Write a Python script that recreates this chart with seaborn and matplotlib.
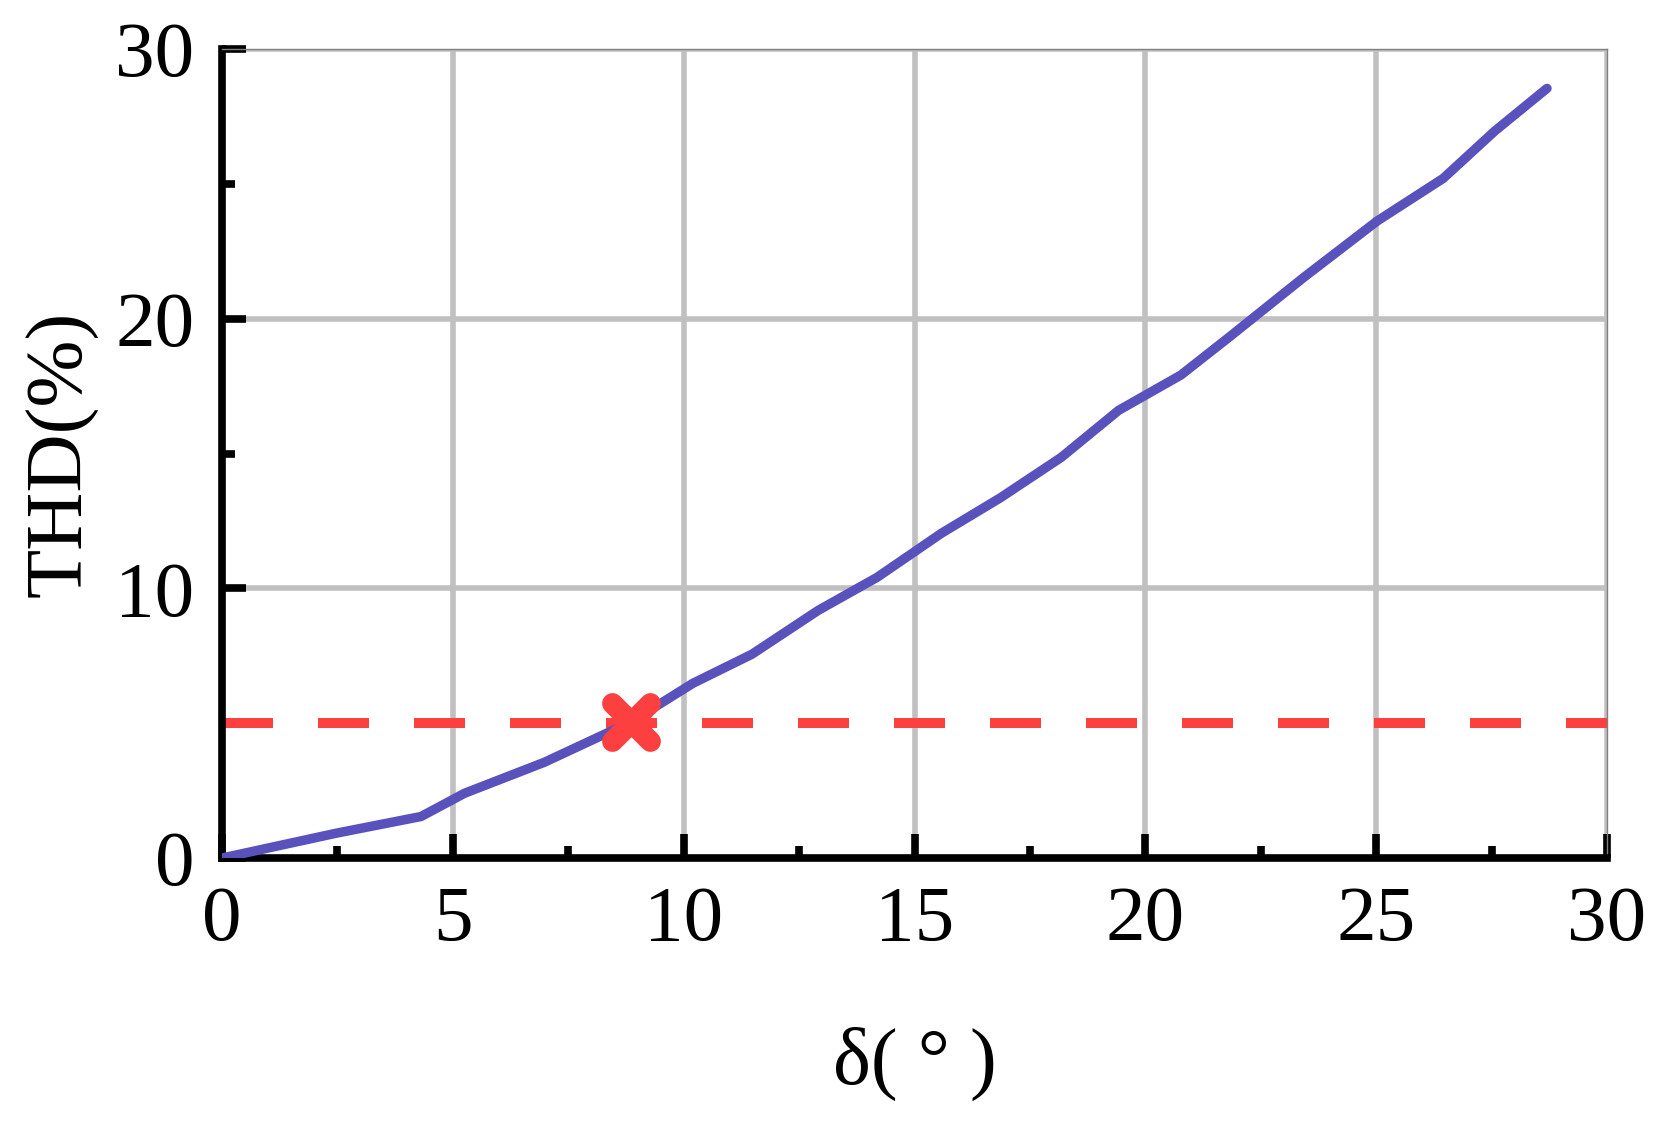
import numpy as np
import pandas as pd
import seaborn as sns
import matplotlib.pyplot as plt
from matplotlib.markers import MarkerStyle
from matplotlib.ticker import MultipleLocator

# THD vs. load angle
delta = [0, 2.47, 4.31, 5.25, 6.98, 8.86, 10.2, 11.48, 12.91, 14.19, 15.58,
         16.87, 18.18, 19.42, 20.77, 21.84, 23.43, 25.02, 26.45, 27.57, 28.70]
thd = [0, 0.92, 1.54, 2.40, 3.55, 5.05, 6.48, 7.56, 9.18, 10.41, 12.04,
       13.37, 14.86, 16.6, 17.91, 19.35, 21.53, 23.62, 25.2, 26.96, 28.54]
limit = 5
cross_x = [8.86]
cross_y = [5.05]

df = pd.DataFrame({'delta': delta, 'thd': thd})

sns.set_style('white')
plt.rcParams['font.family'] = ['Liberation Serif', 'DejaVu Serif']
plt.rcParams['text.color'] = 'black'
plt.rcParams['axes.labelcolor'] = 'black'
plt.rcParams['xtick.color'] = 'black'
plt.rcParams['ytick.color'] = 'black'

fig = plt.figure(figsize=(16.61, 11.29), dpi=100)
ax = fig.add_axes([0.1337, 0.2400, 0.8338, 0.7166])

ax.grid(True, which='major', color='#c0c0c0', linewidth=4, zorder=0)
ax.set_axisbelow(True)

sns.lineplot(data=df, x='delta', y='thd', ax=ax, color='#5a52bc',
             linewidth=6.8, solid_capstyle='round', zorder=3)

ax.axhline(limit, color='#fc3f3f', linewidth=7.2, dashes=(5.1, 4.5),
           zorder=2)
ax.plot(cross_x, cross_y, linestyle='none', color='#fc3f3f',
        marker=MarkerStyle('x', capstyle='round'), markersize=28,
        markeredgewidth=15, zorder=4)

ax.set_xlim(0, 30)
ax.set_ylim(0, 30)
ax.xaxis.set_major_locator(MultipleLocator(5))
ax.xaxis.set_minor_locator(MultipleLocator(2.5))
ax.yaxis.set_major_locator(MultipleLocator(10))
ax.yaxis.set_minor_locator(MultipleLocator(5))

for side in ['left', 'bottom']:
    ax.spines[side].set_color('black')
    ax.spines[side].set_linewidth(5.5)
for side in ['top', 'right']:
    ax.spines[side].set_color('#808080')
    ax.spines[side].set_linewidth(1)

ax.tick_params(which='both', direction='in', bottom=True, left=True,
               top=False, right=False, width=5.5, color='black')
ax.tick_params(which='major', length=17, labelsize=57)
ax.tick_params(which='minor', length=9)
ax.tick_params(axis='x', which='major', pad=20)
ax.tick_params(axis='y', which='major', pad=20)

ax.set_xlabel('δ( ° )', fontsize=58, labelpad=50)
ax.set_ylabel('THD(%)', fontsize=58, labelpad=12)

fig.savefig('out.png', dpi=100)
